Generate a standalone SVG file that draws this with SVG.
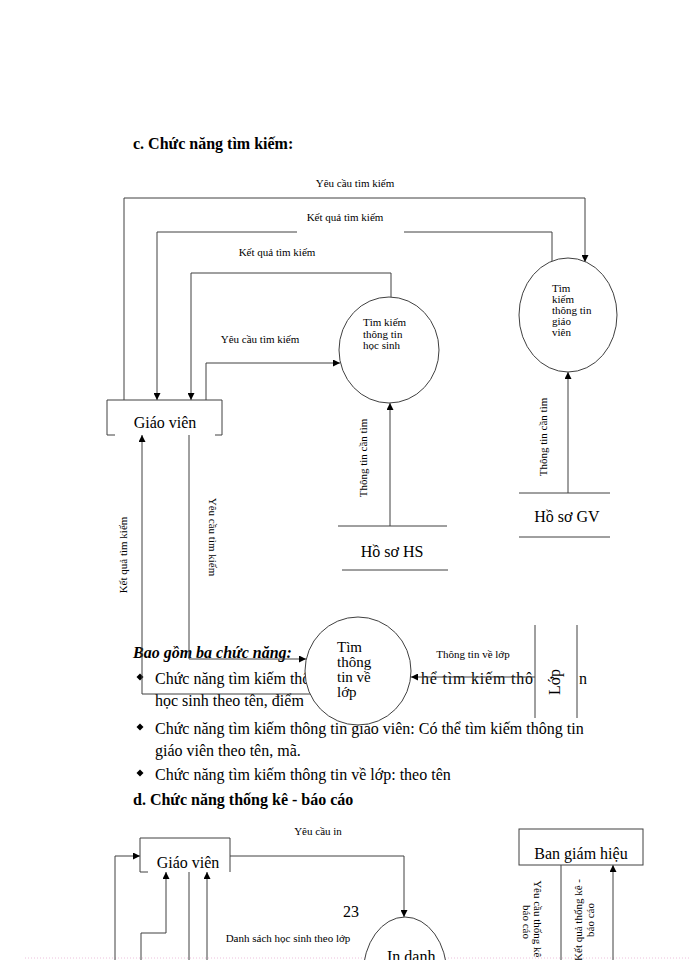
<svg xmlns="http://www.w3.org/2000/svg" width="700" height="960" viewBox="0 0 700 960">
<defs>
<style>
.ln{fill:none;stroke:#404040;stroke-width:1}
.nd{fill:#fff;stroke:#404040;stroke-width:1}
.t{font-family:"Liberation Serif","Times New Roman",serif;fill:#000}
.s{font-size:11px}
.m{font-size:16px}
.p{font-size:15px}
.h{font-size:16px;font-weight:bold}
.bi{font-size:16px;font-weight:bold;font-style:italic}
.c{text-anchor:middle}
</style>
<marker id="ar" markerUnits="userSpaceOnUse" markerWidth="8" markerHeight="7" refX="7" refY="3.5" orient="auto">
<path d="M0,0 L7,3.5 L0,7 z" fill="#000"/>
</marker>
</defs>
<rect width="700" height="960" fill="#fff"/>
<line x1="25" y1="958" x2="690" y2="958" stroke="#ecc0dc" stroke-width="1" stroke-dasharray="1,2"/>

<g id="page-text">
<text class="t h" x="133" y="149">c. Chức năng tìm kiếm:</text>
<text class="t bi" x="133" y="658">Bao gồm ba chức năng:</text>
<polygon points="140,673.5 143.5,677 140,680.5 136.5,677" fill="#000"/>
<text class="t m" x="155" y="684">Chức năng tìm kiếm thô</text>
<text class="t m" x="421" y="684" textLength="112" lengthAdjust="spacing">hể tìm kiếm thô</text>
<text class="t m" x="579" y="684">n</text>
<text class="t m" x="155" y="706">học sinh theo tên, điểm</text>
<polygon points="140,723.5 143.5,727 140,730.5 136.5,727" fill="#000"/>
<text class="t m" x="155" y="734">Chức năng tìm kiếm thông tin giáo viên: Có thể tìm kiếm thông tin</text>
<text class="t m" x="155" y="756">giáo viên theo tên, mã.</text>
<polygon points="140,769.5 143.5,773 140,776.5 136.5,773" fill="#000"/>
<text class="t m" x="155" y="780">Chức năng tìm kiếm thông tin về lớp: theo tên</text>
<text class="t h" x="133" y="805">d. Chức năng thống kê - báo cáo</text>
<text class="t m" x="343" y="917">23</text>
</g>

<g id="connectors">
<path class="ln" d="M124,400 V198 H585 V262" marker-end="url(#ar)"/>
<text class="t s c" x="355" y="187">Yêu cầu tìm kiếm</text>
<path class="ln" d="M552,261 V232 H404 M297,232 H157 V400" marker-end="url(#ar)"/>
<text class="t s c" x="345" y="221">Kết quả tìm kiếm</text>
<path class="ln" d="M391,297 V273 H191 V400" marker-end="url(#ar)"/>
<text class="t s c" x="277" y="256">Kết quả tìm kiếm</text>
<path class="ln" d="M206,400 V363 H340" marker-end="url(#ar)"/>
<text class="t s c" x="260" y="343">Yêu cầu tìm kiếm</text>
<path class="ln" d="M390,526 V403" marker-end="url(#ar)"/>
<text class="t s c" transform="translate(363,458) rotate(-90)" x="0" y="4">Thông tin cần tìm</text>
<path class="ln" d="M568,493 V372" marker-end="url(#ar)"/>
<text class="t s c" transform="translate(543,437) rotate(-90)" x="0" y="4">Thông tin cần tìm</text>
<path class="ln" d="M310,694 H142 V435" marker-end="url(#ar)"/>
<text class="t s c" transform="translate(123,555) rotate(-90)" x="0" y="4">Kết quả tìm kiếm</text>
<path class="ln" d="M189,435 V659 H306" marker-end="url(#ar)"/>
<text class="t s c" transform="translate(213,537) rotate(90)" x="0" y="4">Yêu cầu tìm kiếm</text>
<path class="ln" d="M535,677 H411" marker-end="url(#ar)"/>
<text class="t s c" x="473" y="658">Thông tin về lớp</text>
<path class="ln" d="M230,856 H404 V917" marker-end="url(#ar)"/>
<text class="t s c" x="318" y="835">Yêu cầu in</text>
<path class="ln" d="M115,960 V856 H140" marker-end="url(#ar)"/>
<path class="ln" d="M141,960 V933 H166 V872" marker-end="url(#ar)"/>
<path class="ln" d="M189,872 V960"/>
<path class="ln" d="M207,960 V872" marker-end="url(#ar)"/>
<text class="t s c" x="288" y="942">Danh sách học sinh theo lớp</text>
<path class="ln" d="M561,865 V960"/>
<g transform="translate(532,922) rotate(90)">
<text class="t s c" x="0" y="-2">Yêu cầu thống kê -</text>
<text class="t s c" x="0" y="9">báo cáo</text>
</g>
<path class="ln" d="M613,960 V865" marker-end="url(#ar)"/>
<g transform="translate(585,920) rotate(-90)">
<text class="t s c" x="0" y="-3">Kết quả thống kê -</text>
<text class="t s c" x="0" y="9">báo cáo</text>
</g>
</g>

<g id="giao-vien-1">
<rect x="107" y="400" width="115" height="35" fill="#fff"/>
<path class="ln" d="M115,435 H107 V400 H222 V435 H215"/>
<text class="t m c" x="165" y="428">Giáo viên</text>
</g>

<g id="tim-kiem-hs">
<ellipse class="nd" cx="389" cy="350" rx="50" ry="53"/>
<text class="t s" x="363" y="326">Tìm kiếm</text>
<text class="t s" x="363" y="337.5">thông tin</text>
<text class="t s" x="363" y="349">học sinh</text>
</g>

<g id="tim-kiem-gv">
<ellipse class="nd" cx="568" cy="315" rx="49" ry="57"/>
<text class="t s" x="552" y="292">Tìm</text>
<text class="t s" x="552" y="303">kiếm</text>
<text class="t s" x="552" y="314">thông tin</text>
<text class="t s" x="552" y="325">giáo</text>
<text class="t s" x="552" y="336">viên</text>
</g>

<g id="ho-so-hs">
<path class="ln" d="M338,526 H447 M342,570 H448"/>
<text class="t m c" x="392" y="557">Hồ sơ HS</text>
</g>

<g id="ho-so-gv">
<path class="ln" d="M519,493 H610 M519,537 H610"/>
<text class="t m c" x="567" y="522">Hồ sơ GV</text>
</g>

<g id="tim-thong-tin-lop">
<ellipse class="nd" cx="358" cy="671" rx="53" ry="54"/>
<text class="t p" x="337" y="652">Tìm</text>
<text class="t p" x="337" y="667">thông</text>
<text class="t p" x="337" y="682">tin về</text>
<text class="t p" x="337" y="697">lớp</text>
</g>

<g id="lop">
<rect x="535" y="625" width="42" height="93" fill="#fff"/>
<path class="ln" d="M535,625 V718 M577,625 V718"/>
<text class="t m c" transform="translate(555,682) rotate(-90)" x="0" y="5">Lớp</text>
</g>

<g id="giao-vien-2">
<rect x="140" y="838" width="90" height="34" fill="#fff"/>
<path class="ln" d="M148,872 H140 V838 H230 V872"/>
<text class="t m c" x="188" y="868">Giáo viên</text>
</g>

<g id="ban-giam-hieu">
<rect class="nd" x="519" y="829" width="124" height="36"/>
<text class="t m c" x="581" y="859">Ban giám hiệu</text>
</g>

<g id="in-danh-sach">
<ellipse class="nd" cx="405" cy="975" rx="42" ry="58"/>
<text class="t m" x="387" y="962">In danh</text>
</g>
</svg>
